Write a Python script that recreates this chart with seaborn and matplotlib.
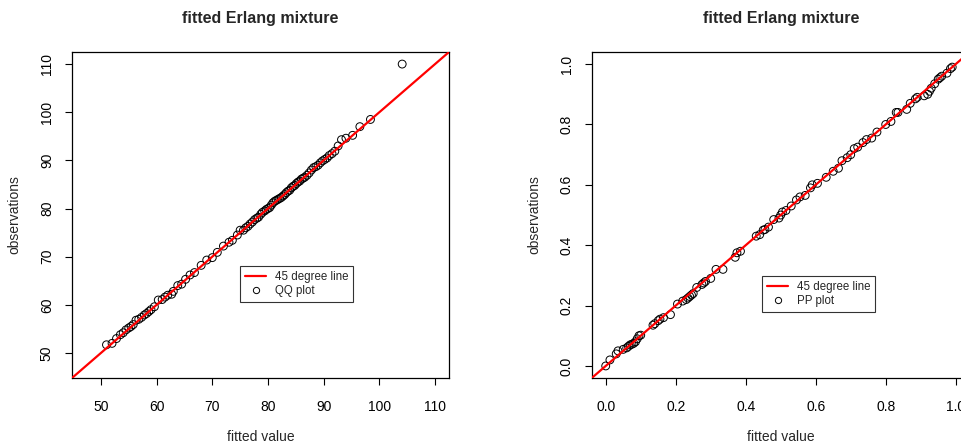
import numpy as np
import pandas as pd
import matplotlib
matplotlib.use("Agg")
import matplotlib.pyplot as plt
from matplotlib.lines import Line2D
import seaborn as sns

# QQ plot: fitted quantiles vs observed values
qq_fitted = [51.0, 52.0, 52.8, 53.5, 54.0, 54.5, 55.0, 55.4, 55.8, 56.3, 56.8, 57.3, 57.8, 58.2,
             58.6, 59.0, 59.6, 60.3, 61.0, 61.5, 62.0, 62.7, 63.0, 63.8, 64.5, 65.2, 66.0, 66.8,
             68.0, 69.0, 70.0, 70.9, 72.0, 73.0, 73.6, 74.5, 75.0, 75.6, 76.0, 76.4, 76.8, 77.2,
             77.6, 78.0, 78.3, 78.7, 79.0, 79.4, 79.7, 80.0, 80.3, 80.6, 80.9, 81.2, 81.5, 81.8,
             82.1, 82.4, 82.7, 83.0, 83.3, 83.6, 83.9, 84.2, 84.5, 84.8, 85.1, 85.4, 85.7, 86.0,
             86.3, 86.6, 87.0, 87.4, 87.8, 88.2, 88.6, 89.0, 89.4, 89.8, 90.2, 90.6, 91.0, 91.5,
             92.0, 92.6, 93.2, 94.0, 95.2, 96.5, 98.4, 104.1]
qq_observed = [51.7, 52.0, 53.0, 53.8, 54.2, 54.8, 55.2, 55.5, 55.9, 56.8, 57.0, 57.4, 57.9, 58.2,
               58.6, 59.0, 59.6, 61.0, 61.1, 61.6, 62.0, 62.2, 62.8, 64.0, 64.3, 65.3, 66.2, 66.7,
               68.2, 69.3, 69.8, 70.9, 72.2, 73.0, 73.4, 74.5, 75.5, 75.5, 76.0, 76.3, 76.8, 77.2,
               77.7, 78.0, 78.2, 78.8, 79.2, 79.5, 79.8, 80.0, 80.2, 80.7, 81.2, 81.5, 81.7, 81.9,
               82.1, 82.3, 82.6, 82.9, 83.3, 83.6, 83.8, 84.3, 84.6, 84.8, 85.2, 85.5, 85.7, 86.1,
               86.3, 86.5, 86.9, 87.4, 88.0, 88.5, 88.7, 89.0, 89.5, 89.9, 90.2, 90.5, 91.0, 91.4,
               91.9, 93.0, 94.3, 94.6, 95.2, 97.0, 98.5, 110.0]

# PP plot: fitted probabilities vs empirical probabilities
pp_fitted = [0.0, 0.012, 0.03, 0.035, 0.05, 0.06, 0.065, 0.07, 0.075, 0.08, 0.085, 0.09, 0.095, 0.1,
             0.135, 0.14, 0.15, 0.155, 0.165, 0.185, 0.205, 0.22, 0.23, 0.235, 0.24, 0.245, 0.25,
             0.26, 0.275, 0.28, 0.285, 0.3, 0.315, 0.335, 0.37, 0.375, 0.385, 0.43, 0.44, 0.45,
             0.455, 0.465, 0.48, 0.495, 0.5, 0.505, 0.515, 0.53, 0.545, 0.555, 0.57, 0.585, 0.59,
             0.605, 0.63, 0.65, 0.665, 0.675, 0.69, 0.7, 0.71, 0.72, 0.735, 0.745, 0.76, 0.775,
             0.8, 0.815, 0.83, 0.835, 0.86, 0.87, 0.885, 0.89, 0.91, 0.92, 0.925, 0.93, 0.94,
             0.95, 0.955, 0.96, 0.975, 0.985, 0.99]
pp_observed = [0.0, 0.02, 0.04, 0.05, 0.055, 0.06, 0.065, 0.07, 0.072, 0.075, 0.08, 0.09, 0.1, 0.102,
               0.135, 0.14, 0.15, 0.155, 0.16, 0.17, 0.205, 0.215, 0.22, 0.225, 0.23, 0.235, 0.24,
               0.26, 0.27, 0.275, 0.28, 0.29, 0.32, 0.32, 0.36, 0.375, 0.38, 0.43, 0.435, 0.45,
               0.452, 0.46, 0.485, 0.49, 0.5, 0.51, 0.515, 0.53, 0.55, 0.56, 0.565, 0.59, 0.6,
               0.605, 0.625, 0.645, 0.655, 0.68, 0.69, 0.7, 0.72, 0.725, 0.74, 0.75, 0.755, 0.775,
               0.8, 0.81, 0.84, 0.84, 0.85, 0.87, 0.885, 0.89, 0.895, 0.9, 0.91, 0.92, 0.935,
               0.95, 0.955, 0.96, 0.97, 0.985, 0.99]

sns.set_theme(style="ticks")
plt.rcParams['font.family'] = ['Liberation Sans', 'DejaVu Sans']

fig = plt.figure(figsize=(9.62, 4.44), dpi=100)
ax1 = fig.add_axes([0.0748, 0.1486, 0.3919, 0.7342])
ax2 = fig.add_axes([0.6151, 0.1486, 0.3929, 0.7342])


def panel(ax, fitted, observed, lims, ticks, ticklabels, label, legend_xy):
    df = pd.DataFrame({"fitted": fitted, "observed": observed})
    ax.axline((0, 0), slope=1, color="red", lw=1.6, zorder=3)
    sns.scatterplot(data=df, x="fitted", y="observed", ax=ax, s=32, marker="o",
                    facecolors="none", edgecolor="black", linewidth=0.7, zorder=2)
    ax.set_xlim(lims)
    ax.set_ylim(lims)
    ax.set_xticks(ticks)
    ax.set_xticklabels(ticklabels)
    ax.set_yticks(ticks)
    ax.set_yticklabels(ticklabels, rotation=90, va="center")
    ax.tick_params(length=5, width=0.8, labelsize=10, colors="black")
    ax.tick_params(axis="x", pad=11)
    ax.tick_params(axis="y", pad=8)
    for sp in ax.spines.values():
        sp.set_color("black")
        sp.set_linewidth(0.9)
    ax.set_title("fitted Erlang mixture", fontsize=11.5, fontweight="bold", pad=21)
    ax.set_xlabel("fitted value", fontsize=10, labelpad=11)
    ax.set_ylabel("observations", fontsize=10, labelpad=13)
    handles = [Line2D([], [], color="red", lw=1.6),
               Line2D([], [], color="black", marker="o", markerfacecolor="none",
                      markersize=4.5, markeredgewidth=0.7, linestyle="none")]
    leg = ax.legend(handles, ["45 degree line", label], loc="upper left",
                    bbox_to_anchor=legend_xy, borderaxespad=0, fontsize=8.3,
                    frameon=True, fancybox=False, handlelength=1.8, borderpad=0.45,
                    labelspacing=0.18, handletextpad=0.75)
    leg.get_frame().set_edgecolor("black")
    leg.get_frame().set_linewidth(0.8)


panel(ax1, qq_fitted, qq_observed, (44.8, 112.5), [50, 60, 70, 80, 90, 100, 110],
      ["50", "60", "70", "80", "90", "100", "110"], "QQ plot", (0.4456, 0.3436))
panel(ax2, pp_fitted, pp_observed, (-0.04, 1.04), [0.0, 0.2, 0.4, 0.6, 0.8, 1.0],
      ["0.0", "0.2", "0.4", "0.6", "0.8", "1.0"], "PP plot", (0.4505, 0.313))

fig.savefig("out.png", dpi=100)
